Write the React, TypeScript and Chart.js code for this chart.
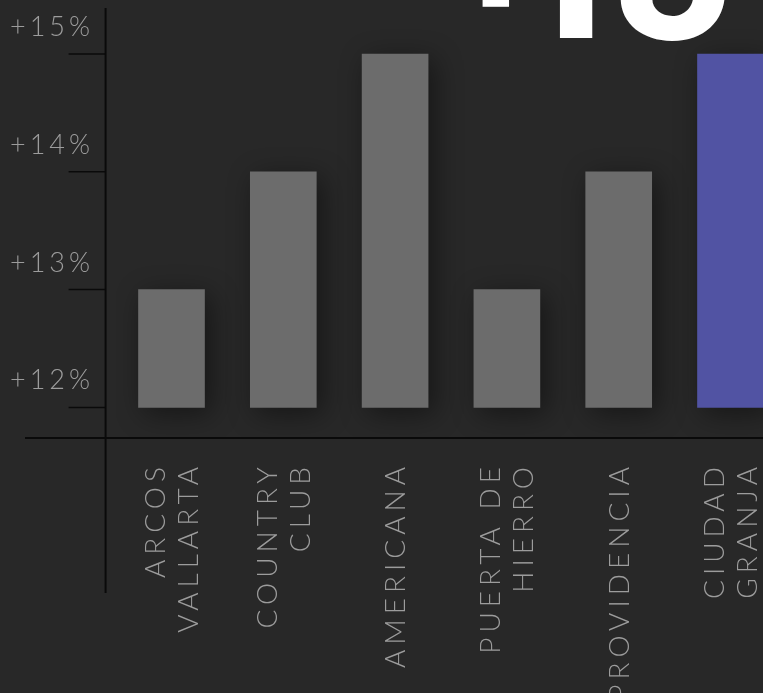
import React, { useEffect, useRef } from "react";
import { Chart, registerables } from "chart.js";

Chart.register(...registerables);

// ---- data ----
const categories: string[][] = [
  ["ARCOS", "VALLARTA"],
  ["COUNTRY", "CLUB"],
  ["AMERICANA"],
  ["PUERTA DE", "HIERRO"],
  ["PROVIDENCIA"],
  ["CIUDAD", "GRANJA"],
];
const growthValues: number[] = [13, 14, 15, 13, 14, 15];
const baseValue = 12;
const yTickValues: number[] = [12, 13, 14, 15];
const yTickLabels: string[] = ["+12%", "+13%", "+14%", "+15%"];
const headline = "+15%";
const highlightIndex = 5;

const BG = "#282828";
const GRAY = "#6c6c6c";
const BLUE = "#5153a3";
const TEXT = "#9c9c9c";

const CANVAS_W = 800;
const CANVAS_H = 693;

function drawHeadline(ctx: CanvasRenderingContext2D) {
  (ctx as any).letterSpacing = "0px";
  ctx.textAlign = "left";
  ctx.textBaseline = "alphabetic";
  ctx.fillStyle = "#ffffff";
  ctx.font = "800 100px Inter";
  const m5 = ctx.measureText("5");
  const w5 = m5.actualBoundingBoxLeft + m5.actualBoundingBoxRight;
  const size = (100 * 107) / (w5 || 55);
  ctx.font = `800 ${size}px Inter`;
  const chars = headline.split("");
  const baseline = 38;
  // visual anchors of the cropped headline glyphs
  chars.forEach((ch, i) => {
    const m = ctx.measureText(ch);
    if (i === 0) {
      const w = m.actualBoundingBoxLeft + m.actualBoundingBoxRight;
      const x = 496 - w / 2 + m.actualBoundingBoxLeft;
      ctx.fillText(ch, x, 7 - m.actualBoundingBoxDescent);
    } else if (i === 1) {
      ctx.fillText(ch, 593 - m.actualBoundingBoxRight, baseline);
    } else if (i === 2) {
      ctx.fillText(ch, 620 + m.actualBoundingBoxLeft, baseline + 1);
    } else {
      ctx.fillText(ch, 760 + m.actualBoundingBoxLeft, baseline + 2);
    }
  });
}

const decorPlugin = {
  id: "decor",
  beforeDraw(chart: any) {
    const { ctx } = chart;
    ctx.save();
    ctx.fillStyle = BG;
    ctx.fillRect(0, 0, chart.width, chart.height);
    ctx.restore();
  },
  beforeDatasetsDraw(chart: any) {
    const { ctx } = chart;
    ctx.save();
    ctx.shadowColor = "rgba(0,0,0,0.45)";
    ctx.shadowBlur = 28;
    ctx.shadowOffsetX = 6;
    ctx.shadowOffsetY = 6;
  },
  afterDatasetsDraw(chart: any) {
    chart.ctx.restore();
  },
  afterDraw(chart: any) {
    const { ctx, chartArea } = chart;
    const xScale = chart.scales.x;
    const yScale = chart.scales.y;
    const axisX = chartArea.left - 10;
    const axisY = chartArea.bottom;

    ctx.save();
    // axes
    ctx.strokeStyle = "#0a0a0a";
    ctx.lineWidth = 2;
    ctx.beginPath();
    ctx.moveTo(axisX, 8);
    ctx.lineTo(axisX, 593);
    ctx.moveTo(25, axisY);
    ctx.lineTo(chart.width, axisY);
    ctx.stroke();

    // y ticks + labels
    ctx.lineWidth = 1.5;
    ctx.fillStyle = TEXT;
    ctx.font = "300 27px Lato";
    (ctx as any).letterSpacing = "4px";
    ctx.textAlign = "right";
    ctx.textBaseline = "alphabetic";
    yTickValues.forEach((v, i) => {
      const py = yScale.getPixelForValue(v);
      ctx.beginPath();
      ctx.moveTo(axisX - 37, py);
      ctx.lineTo(axisX, py);
      ctx.stroke();
      ctx.fillText(yTickLabels[i], 94, py - 18);
    });

    // x labels (rotated, letter-spaced)
    ctx.font = "300 28px Lato";
    (ctx as any).letterSpacing = "5px";
    const lineGap = 33;
    const capHalf = 28 * 0.36;
    categories.forEach((lines, i) => {
      const px = xScale.getPixelForValue(i);
      const n = lines.length;
      lines.forEach((line, j) => {
        const cx = px + (j - (n - 1) / 2) * lineGap;
        ctx.save();
        ctx.translate(cx + capHalf, 462);
        ctx.rotate(-Math.PI / 2);
        ctx.textAlign = "right";
        ctx.textBaseline = "alphabetic";
        ctx.fillText(line, 0, 0);
        ctx.restore();
      });
    });

    drawHeadline(ctx);
    ctx.restore();
  },
};

export default function App() {
  const ref = useRef<HTMLCanvasElement | null>(null);
  useEffect(() => {
    if (!ref.current) return;
    const chart = new Chart(ref.current, {
      type: "bar",
      data: {
        labels: categories.map((c) => c.join(" ")),
        datasets: [
          {
            data: growthValues.map((v) => [baseValue, v]) as any,
            backgroundColor: growthValues.map((_, i) => (i === highlightIndex ? BLUE : GRAY)),
            borderWidth: 0,
            barThickness: 66,
          },
        ],
      },
      options: {
        responsive: false,
        animation: false,
        events: [],
        layout: {
          padding: { left: 115.6, right: CANVAS_W - 786.4, top: 7, bottom: CANVAS_H - 438 },
        },
        plugins: {
          legend: { display: false },
          tooltip: { enabled: false },
        },
        scales: {
          x: { type: "category", display: false, offset: true, grid: { display: false } },
          y: { display: false, min: 11.74, max: 15.4 },
        },
      },
      plugins: [decorPlugin],
    });
    return () => chart.destroy();
  }, []);

  return (
    <div style={{ position: "fixed", left: 0, top: 0, width: "100vw", height: "100vh", overflow: "hidden", background: BG }}>
      <canvas ref={ref} width={CANVAS_W} height={CANVAS_H} style={{ display: "block", position: "absolute", left: 0, top: 0 }} />
    </div>
  );
}
